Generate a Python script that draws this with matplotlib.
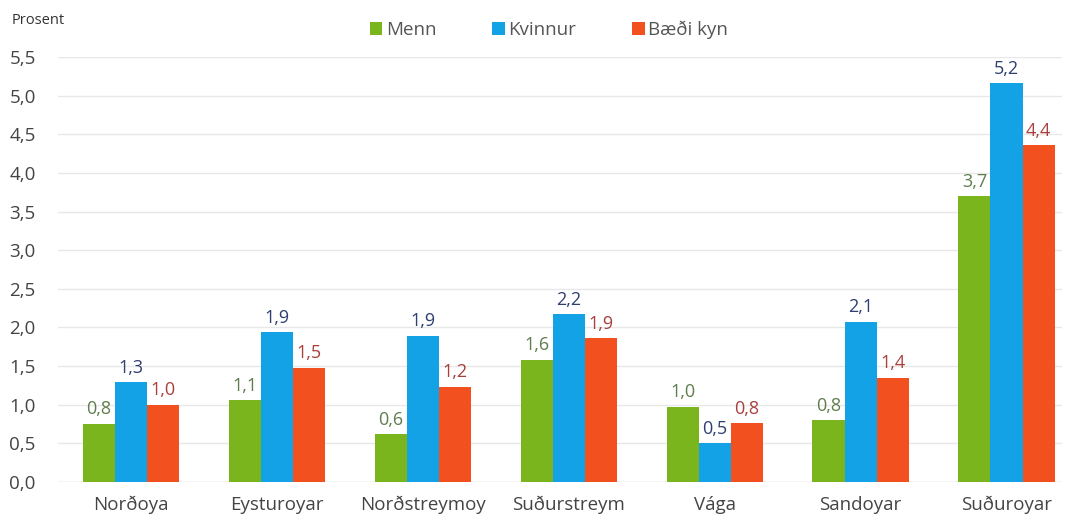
import matplotlib.pyplot as plt
import numpy as np

plt.rcParams['font.family'] = ['Open Sans', 'DejaVu Sans']

regions = ["Norðoya", "Eysturoyar", "Norðstreymoy", "Suðurstreym", "Vága", "Sandoyar", "Suðuroyar"]
menn = [0.75, 1.06, 0.62, 1.58, 0.97, 0.80, 3.70]
kvinnur = [1.29, 1.94, 1.89, 2.17, 0.50, 2.07, 5.16]
baedi = [1.00, 1.48, 1.23, 1.86, 0.76, 1.35, 4.36]
menn_lbl = ["0,8", "1,1", "0,6", "1,6", "1,0", "0,8", "3,7"]
kvinnur_lbl = ["1,3", "1,9", "1,9", "2,2", "0,5", "2,1", "5,2"]
baedi_lbl = ["1,0", "1,5", "1,2", "1,9", "0,8", "1,4", "4,4"]
yticks = [0.0, 0.5, 1.0, 1.5, 2.0, 2.5, 3.0, 3.5, 4.0, 4.5, 5.0, 5.5]

series = [
    ("Menn", menn, menn_lbl, "#7ab51d", "#5f7d4e"),
    ("Kvinnur", kvinnur, kvinnur_lbl, "#14a2e6", "#2f3f70"),
    ("Bæði kyn", baedi, baedi_lbl, "#f2511f", "#a8403c"),
]

fig = plt.figure(figsize=(10.73, 5.23), dpi=100)
ax = fig.add_axes([58/1073, 1 - 482/523, (1062-58)/1073, (482-57)/523])

x = np.arange(len(regions))
w = 0.22
for i, (name, vals, lbls, col, tcol) in enumerate(series):
    pos = x + (i - 1) * w
    bars = ax.bar(pos, vals, w, color=col, label=name, zorder=3)
    for b, t in zip(bars, lbls):
        ax.annotate(t, (b.get_x() + b.get_width() / 2, b.get_height()),
                    xytext=(0, 4), textcoords='offset points',
                    ha='center', va='bottom', fontsize=13, color=tcol)

ax.set_xlim(-0.5, 6.38)
ax.set_ylim(0, 5.5)
ax.set_yticks(yticks)
ax.set_yticklabels([f"{v:.1f}".replace('.', ',') for v in yticks])
ax.set_xticks(x)
ax.set_xticklabels(regions)
ax.grid(axis='y', color='#e8e8e8', linewidth=1, zorder=0)
ax.tick_params(axis='both', length=0, labelsize=13.5, colors='#444444')
ax.tick_params(axis='x', pad=10)
ax.tick_params(axis='y', pad=16)
for s in ax.spines.values():
    s.set_visible(False)
ax.axhline(0, color='#dddddd', linewidth=1, zorder=1)

fig.text(12/1073, 1 - 20/523, "Prosent", fontsize=10.5, color='#333333', va='center')
fig.legend(loc='center', bbox_to_anchor=(549/1073, 1 - 30/523), ncol=3, frameon=False,
           fontsize=13.5, handlelength=0.65, handleheight=0.65, handletextpad=0.2,
           columnspacing=3.0, labelcolor='#555555')

fig.savefig("out.png", dpi=100)
